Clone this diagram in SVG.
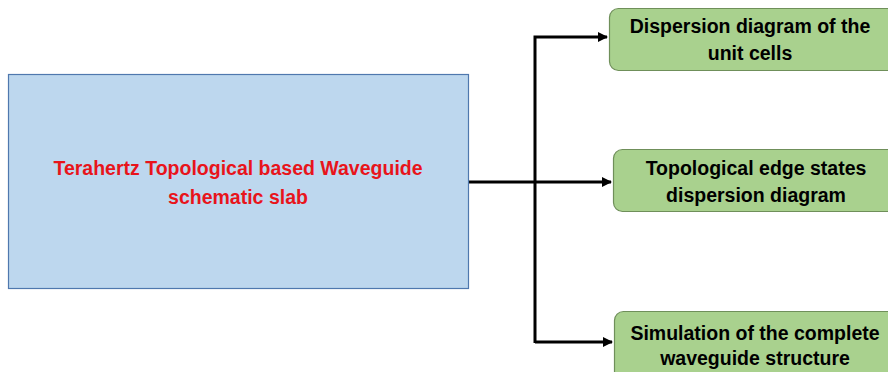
<svg xmlns="http://www.w3.org/2000/svg" width="888" height="372" viewBox="0 0 888 372">
<defs>
<style>
.t{font-family:"Liberation Sans",Arial,sans-serif;font-weight:bold;font-size:19.5px;text-anchor:middle}
.g{fill:#A9D18E;stroke:#6F8F5A;stroke-width:1.2}
.c{fill:none;stroke:#000;stroke-width:3}
</style>
<marker id="ah" markerWidth="12" markerHeight="12" refX="9" refY="5" orient="auto" markerUnits="userSpaceOnUse">
<path d="M0,0 L10,5 L0,10 Z" fill="#000"/>
</marker>
</defs>
<rect width="888" height="372" fill="#fff"/>
<g id="connectors">
<path class="c" d="M535,343 V37 H607" marker-end="url(#ah)"/>
<path class="c" d="M469,182 H611" marker-end="url(#ah)"/>
<path class="c" d="M535,342 H612" marker-end="url(#ah)"/>
</g>
<g id="slab">
<rect x="8.5" y="74.5" width="460" height="214" fill="#BDD7EE" stroke="#4F78AE" stroke-width="1.2"/>
<text class="t" x="238" y="175" fill="#E8141B">Terahertz Topological based Waveguide</text>
<text class="t" x="238" y="204" fill="#E8141B">schematic slab</text>
</g>
<g id="dispersion">
<rect class="g" x="609.5" y="8.5" width="290" height="62" rx="9"/>
<text class="t" x="750" y="33">Dispersion diagram of the</text>
<text class="t" x="750" y="60">unit cells</text>
</g>
<g id="edge">
<rect class="g" x="613.5" y="149.5" width="290" height="62" rx="9"/>
<text class="t" x="756" y="175">Topological edge states</text>
<text class="t" x="756" y="202">dispersion diagram</text>
</g>
<g id="simulation">
<rect class="g" x="614.5" y="311.5" width="290" height="70" rx="9"/>
<text class="t" x="755" y="340">Simulation of the complete</text>
<text class="t" x="755" y="365">waveguide structure</text>
</g>
</svg>
